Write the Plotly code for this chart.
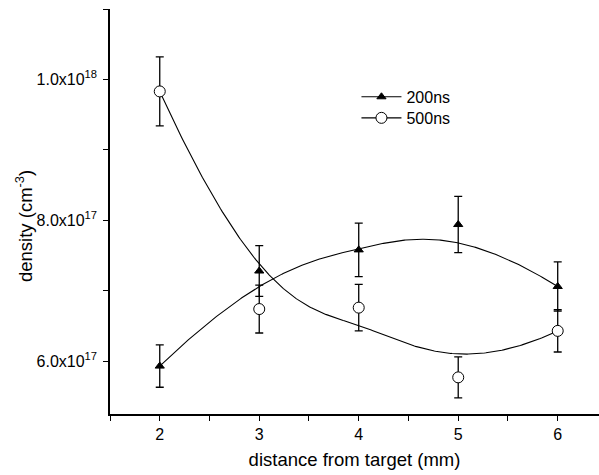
import numpy as np
import plotly.graph_objects as go

# distance from target (mm)
distance = [2, 3, 4, 5, 6]

# electron density, in units of 1e17 cm^-3
dens_200ns = [5.93, 7.28, 7.58, 7.94, 7.06]
err_200ns = [0.30, 0.36, 0.38, 0.40, 0.35]
dens_500ns = [9.83, 6.74, 6.76, 5.77, 6.43]
err_500ns = [0.49, 0.34, 0.33, 0.29, 0.30]

y_tickvals = [6e17, 8e17, 1e18]
y_ticktext = ["6.0x10<sup>17</sup>", "8.0x10<sup>17</sup>", "1.0x10<sup>18</sup>"]
y_minor = [7e17, 9e17, 1.1e18]
x_tickvals = [2, 3, 4, 5, 6]
x_ticktext = ["2", "3", "4", "5", "6"]
x_minor = [1.5, 2.5, 3.5, 4.5, 5.5]

SCALE = 1e17
FONT = "Liberation Sans, Arial, sans-serif"


def bspline_curve(px, py, degree=3, n=300):
    """Clamped uniform B-spline using the data points as control points."""
    px = np.asarray(px, float)
    py = np.asarray(py, float)
    m = len(px)
    inner = np.linspace(0, 1, m - degree + 1)
    knots = np.concatenate([[0.0] * degree, inner, [1.0] * degree])
    t = np.linspace(0, 1, n)
    nb = len(knots) - 1
    N = np.zeros((n, nb))
    for i in range(nb):
        N[:, i] = (knots[i] <= t) & (t < knots[i + 1])
    # include the end point in the last non-empty span
    last = max(i for i in range(nb) if knots[i] < knots[i + 1])
    N[t == 1.0, last] = 1.0
    for p in range(1, degree + 1):
        newN = np.zeros((n, nb - p))
        for i in range(nb - p):
            d1 = knots[i + p] - knots[i]
            d2 = knots[i + p + 1] - knots[i + 1]
            term = np.zeros(n)
            if d1 > 0:
                term += (t - knots[i]) / d1 * N[:, i]
            if d2 > 0:
                term += (knots[i + p + 1] - t) / d2 * N[:, i + 1]
            newN[:, i] = term
        N = newN
    return N @ px, N @ py


fig = go.Figure()

series = [
    ("200ns", dens_200ns, err_200ns, "legend",
     dict(symbol="triangle-up", size=8, color="black",
          line=dict(color="black", width=1))),
    ("500ns", dens_500ns, err_500ns, "legend2",
     dict(symbol="circle", size=11, color="white",
          line=dict(color="black", width=1))),
]

for name, vals, errs, leg, marker in series:
    yv = [v * SCALE for v in vals]
    ye = [e * SCALE for e in errs]
    cx, cy = bspline_curve(distance, yv)
    fig.add_trace(go.Scatter(x=cx, y=cy, mode="lines",
                             line=dict(color="black", width=1.1),
                             showlegend=False, hoverinfo="skip"))
    fig.add_trace(go.Scatter(
        x=distance, y=yv, mode="markers", marker=marker,
        error_y=dict(type="data", array=ye, visible=True, color="black",
                     thickness=1.3, width=4),
        showlegend=False))
    # legend entry: line with marker
    fig.add_trace(go.Scatter(
        x=[None], y=[None], mode="lines+markers", name=name, legend=leg,
        line=dict(color="black", width=1.1), marker=marker))

axis_common = dict(showgrid=False, zeroline=False, showline=True,
                   linecolor="black", linewidth=1.5,
                   ticks="outside", ticklen=5, tickcolor="black", tickwidth=1.3)

legend_common = dict(xanchor="left", yanchor="middle",
                     bgcolor="rgba(0,0,0,0)",
                     font=dict(family=FONT, size=16, color="black"), itemwidth=40)

fig.update_layout(
    width=599, height=475,
    margin=dict(l=110, r=0, t=9, b=61),
    paper_bgcolor="white", plot_bgcolor="white",
    font=dict(family=FONT, color="black", size=16),
    showlegend=True,
    legend=dict(x=0.504, y=0.783, **legend_common),
    legend2=dict(x=0.504, y=0.731, **legend_common),
    xaxis=dict(range=[1.5, 6.415], tickvals=x_tickvals, ticktext=x_ticktext,
               tickfont=dict(family=FONT, size=16, color="black"),
               minor=dict(tickvals=x_minor, ticks="outside", ticklen=5,
                          tickcolor="black", tickwidth=1.3),
               title=dict(text="distance from target (mm)",
                          font=dict(family=FONT, size=18.5), standoff=11),
               **axis_common),
    yaxis=dict(range=[5.25e17, 1.1e18], tickvals=y_tickvals, ticktext=y_ticktext,
               tickfont=dict(family=FONT, size=16, color="black"),
               ticklabelstandoff=3,
               minor=dict(tickvals=y_minor, ticks="outside", ticklen=5,
                          tickcolor="black", tickwidth=1.3),
               **axis_common),
    annotations=[dict(text="density (cm<sup>-3</sup>)", textangle=-90,
                      xref="paper", yref="paper", x=-0.176, y=0.464,
                      xanchor="center", yanchor="middle", showarrow=False,
                      font=dict(family=FONT, size=18.5))],
)

fig.write_html("out.html")
